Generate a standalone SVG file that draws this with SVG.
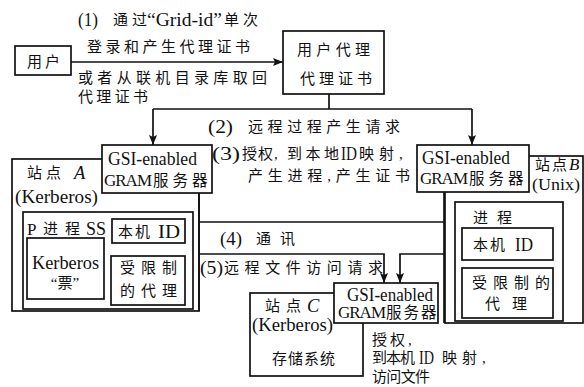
<svg xmlns="http://www.w3.org/2000/svg" width="584" height="387" viewBox="0 0 584 387">
<style>
text{font-family:"Liberation Serif","Noto Sans CJK SC",serif;font-size:15px;fill:#111}
.l{font-size:18.5px}
.g{font-size:17px;letter-spacing:-1px}
.s{font-size:15.5px;letter-spacing:4px}
.b{fill:#fff;stroke:#111;stroke-width:1.7}
.c{fill:none;stroke:#111;stroke-width:1.7}
.m{text-anchor:middle}
.i{font-style:italic}
</style>
<defs>
<marker id="ah" viewBox="0 0 10 8" refX="10" refY="4" markerWidth="10" markerHeight="8" markerUnits="userSpaceOnUse" orient="auto">
<path d="M0,0 L10,4 L0,8 L2,4 Z" fill="#111"/>
</marker>
</defs>
<rect width="584" height="387" fill="#fff"/>

<g id="siteA">
<rect class="b" x="12" y="159" width="187" height="152"/>
<text x="27" y="178" textLength="34" lengthAdjust="spacing">站点</text>
<text class="l i" x="74" y="179">A</text>
<text class="l" x="15" y="203" textLength="83" lengthAdjust="spacingAndGlyphs">(Kerberos)</text>
<rect class="b" x="23" y="212" width="170" height="97"/>
<text x="27" y="235" style="font-size:17px">P</text>
<text x="43" y="234" textLength="37" lengthAdjust="spacing">进程</text>
<text class="l" x="86" y="235" textLength="20" lengthAdjust="spacingAndGlyphs">SS</text>
<rect class="b" x="112" y="219" width="73" height="24"/>
<text x="118" y="237" textLength="32" lengthAdjust="spacing">本机</text>
<text class="l" x="158" y="238" textLength="22" lengthAdjust="spacingAndGlyphs">ID</text>
<rect class="b" x="27" y="238" width="77" height="61"/>
<text class="l" x="32" y="269" textLength="67" lengthAdjust="spacingAndGlyphs">Kerberos</text>
<text class="m" x="65" y="288">“票”</text>
<rect class="b" x="111" y="256" width="74" height="49"/>
<text x="120" y="273" textLength="57" lengthAdjust="spacing">受限制</text>
<text x="120" y="296" textLength="57" lengthAdjust="spacing">的代理</text>
</g>

<g id="siteB">
<rect class="b" x="445" y="156" width="138" height="167"/>
<text x="535" y="170" textLength="32" lengthAdjust="spacing">站点</text>
<text x="569" y="170" style="font-size:17px;font-style:italic">B</text>
<text x="532" y="190" style="font-size:17px" textLength="48" lengthAdjust="spacingAndGlyphs">(Unix)</text>
<rect class="b" x="455" y="202" width="108" height="119"/>
<text x="473" y="223" textLength="39" lengthAdjust="spacing">进程</text>
<rect class="b" x="462" y="228" width="91" height="32"/>
<text x="473" y="250" textLength="32" lengthAdjust="spacing">本机</text>
<text class="l" x="515" y="251" textLength="18" lengthAdjust="spacingAndGlyphs">ID</text>
<rect class="b" x="462" y="268" width="91" height="50"/>
<text x="472" y="288" textLength="78" lengthAdjust="spacing">受限制的</text>
<text x="485" y="309" textLength="42" lengthAdjust="spacing">代理</text>
</g>

<g id="siteC">
<rect class="b" x="250" y="293" width="113" height="83"/>
<text x="265" y="311" textLength="36" lengthAdjust="spacing">站点</text>
<text class="l i" x="307" y="312">C</text>
<text class="l" x="252" y="331" textLength="81" lengthAdjust="spacingAndGlyphs">(Kerberos)</text>
<text x="272" y="364" textLength="63" lengthAdjust="spacing">存储系统</text>
</g>

<g id="connectors">
<path class="c" d="M71,62 H283" marker-end="url(#ah)"/>
<path class="c" d="M329,94 V109"/>
<path class="c" d="M153,109 H472"/>
<path class="c" d="M153,109 V145" marker-end="url(#ah)"/>
<path class="c" d="M472,109 V145" marker-end="url(#ah)"/>
<path class="c" d="M199,193 V311"/>
<path class="c" d="M444,192 V323"/>
<path class="c" d="M199,222 H444"/>
<path class="c" d="M199,254 H384 V283" marker-end="url(#ah)"/>
<path class="c" d="M444,254 H400 V283" marker-end="url(#ah)"/>
</g>

<g id="user">
<rect class="b" x="15" y="46" width="56" height="29"/>
<text x="27" y="67" textLength="33" lengthAdjust="spacing">用户</text>
</g>

<g id="proxy">
<rect class="b" x="283" y="31" width="101" height="63"/>
<text x="297" y="55" textLength="73" lengthAdjust="spacing">用户代理</text>
<text x="300" y="84" textLength="72" lengthAdjust="spacing">代理证书</text>
</g>

<g id="gramA">
<rect class="b" x="102" y="145" width="110" height="48"/>
<text class="l" x="108" y="165" textLength="89" lengthAdjust="spacingAndGlyphs">GSI-enabled</text>
<text x="104" y="186"><tspan class="g">GRAM</tspan><tspan class="s" dx="2">服务器</tspan></text>
</g>

<g id="gramB">
<rect class="b" x="417" y="145" width="112" height="47"/>
<text class="l" x="422" y="164" textLength="88" lengthAdjust="spacingAndGlyphs">GSI-enabled</text>
<text x="420" y="184"><tspan class="g">GRAM</tspan><tspan class="s" dx="2">服务器</tspan></text>
</g>

<g id="gramC">
<rect class="b" x="334" y="283" width="104" height="40"/>
<text class="l" x="347" y="301" textLength="86" lengthAdjust="spacingAndGlyphs">GSI-enabled</text>
<text x="338" y="318"><tspan class="g">GRAM</tspan><tspan class="s" dx="1" style="letter-spacing:2px">服务器</tspan></text>
</g>

<g id="labels">
<text class="l" x="78" y="26" textLength="20" lengthAdjust="spacingAndGlyphs">(1)</text>
<text x="113" y="25" textLength="34" lengthAdjust="spacing">通过</text>
<text class="l" x="147" y="26" textLength="75" lengthAdjust="spacingAndGlyphs">“Grid-id”</text>
<text x="224" y="25" textLength="34" lengthAdjust="spacing">单次</text>
<text x="87" y="52" textLength="163" lengthAdjust="spacing">登录和产生代理证书</text>
<text x="78" y="83" textLength="189" lengthAdjust="spacing">或者从联机目录库取回</text>
<text x="78" y="102" textLength="70" lengthAdjust="spacing">代理证书</text>
<text class="l" x="208" y="133" textLength="25" lengthAdjust="spacingAndGlyphs">(2)</text>
<text x="248" y="132" textLength="152" lengthAdjust="spacing">远程过程产生请求</text>
<text class="l" x="212" y="160" textLength="28" lengthAdjust="spacingAndGlyphs">(3)</text>
<text x="242" y="159" letter-spacing="1">授权,</text>
<text x="287" y="159" textLength="52" lengthAdjust="spacing">到本地</text>
<text class="l" x="341" y="160" textLength="16" lengthAdjust="spacingAndGlyphs">ID</text>
<text x="359" y="159" letter-spacing="5">映射,</text>
<text x="248" y="181" textLength="162" lengthAdjust="spacing">产生进程,产生证书</text>
<text class="l" x="220" y="245" textLength="22" lengthAdjust="spacingAndGlyphs">(4)</text>
<text x="256" y="244" textLength="39" lengthAdjust="spacing">通讯</text>
<text class="l" x="200" y="274" textLength="23" lengthAdjust="spacingAndGlyphs">(5)</text>
<text x="224" y="273" textLength="159" lengthAdjust="spacing">远程文件访问请求</text>
<text x="372" y="345" letter-spacing="3">授权,</text>
<text x="372" y="363" textLength="43" lengthAdjust="spacing">到本机</text>
<text class="l" x="419" y="364" textLength="15" lengthAdjust="spacingAndGlyphs">ID</text>
<text x="442" y="363" letter-spacing="5">映射,</text>
<text x="372" y="382" textLength="58" lengthAdjust="spacing">访问文件</text>
</g>
</svg>
